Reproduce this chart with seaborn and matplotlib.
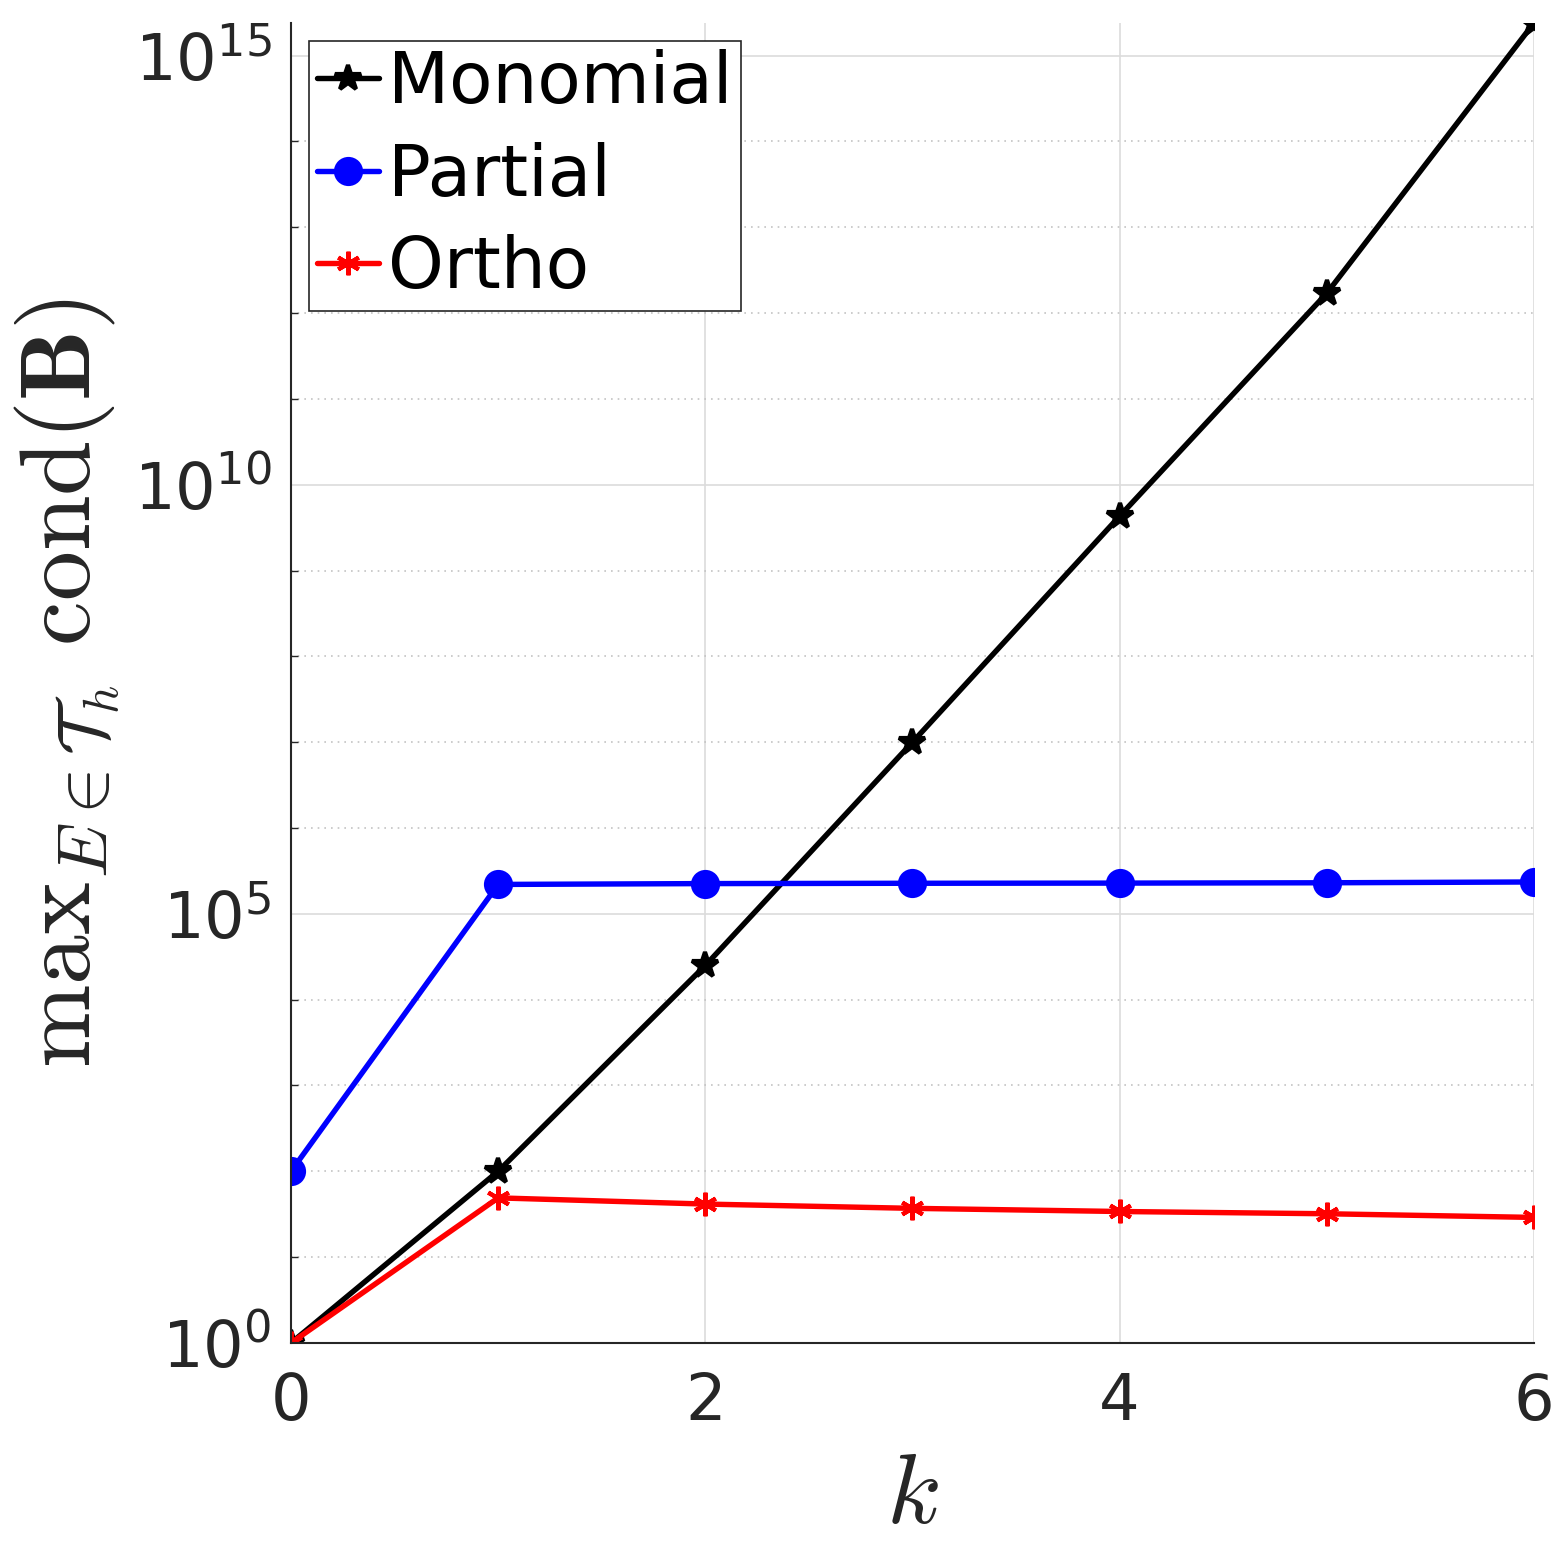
import numpy as np
import pandas as pd
import matplotlib
matplotlib.use('Agg')
import matplotlib.pyplot as plt
import matplotlib.ticker as mticker
import seaborn as sns

# valores
k = [0, 1, 2, 3, 4, 5, 6]
monomial = [1.0, 1.0e2, 2.5e4, 1.0e7, 4.3e9, 1.7e12, 2.4e15]
partial = [1.0e2, 2.2e5, 2.25e5, 2.27e5, 2.28e5, 2.3e5, 2.35e5]
ortho = [1.0, 49, 41.5, 37, 34, 32, 29]

series = {
    'Monomial': (monomial, '#000000', '*', 19),
    'Partial': (partial, '#0000FF', 'o', 18),
    'Ortho': (ortho, '#FF0000', (6, 2, 0), 17),
}

sns.set_theme(style='white')
plt.rcParams['font.family'] = ['DejaVu Sans']
plt.rcParams['mathtext.fontset'] = 'cm'

fig = plt.figure(figsize=(15.63, 15.63), dpi=100)
ax = fig.add_axes([0.1862, 0.1408, 0.9814 - 0.1862, 0.9853 - 0.1408])

for name, (vals, col, mk, ms) in series.items():
    df = pd.DataFrame({'k': k, 'val': vals})
    sns.lineplot(data=df, x='k', y='val', ax=ax, color=col, marker=mk,
                 markersize=ms, markeredgewidth=3.0, markeredgecolor=col,
                 markerfacecolor=col, linewidth=3.9, label=name)

ax.set_yscale('log')
ax.set_xlim(0, 6)
ax.set_ylim(1, 2.4e15)
ax.set_xticks([0, 2, 4, 6])
ax.yaxis.set_major_locator(mticker.FixedLocator([1e0, 1e5, 1e10, 1e15]))
ax.yaxis.set_minor_locator(mticker.FixedLocator([10.0 ** i for i in range(16)]))
ax.yaxis.set_major_formatter(mticker.LogFormatterSciNotation())
ax.yaxis.set_minor_formatter(mticker.NullFormatter())

ax.grid(True, which='major', color='#dcdcdc', linestyle='-', linewidth=1.2)
ax.grid(True, which='minor', axis='y', color='#c4c4c4', linestyle=(0, (1, 3)), linewidth=1.2)

for s in ['top', 'right']:
    ax.spines[s].set_visible(False)
for s in ['left', 'bottom']:
    ax.spines[s].set_color('#262626')
    ax.spines[s].set_linewidth(1.5)

ax.tick_params(axis='both', which='major', direction='in', length=9.5, width=1.2,
               color='#262626', labelsize=46, labelcolor='#262626')
ax.tick_params(axis='x', which='major', pad=20)
ax.tick_params(axis='y', which='major', pad=14)
ax.tick_params(axis='y', which='minor', direction='in', length=5, width=1.0,
               color='#262626', left=True)

ax.set_xlabel(r'$k$', fontsize=72, labelpad=10)
ax.set_ylabel(r'$\mathrm{max}_{E\in\mathcal{T}_h}\ \mathrm{cond}(\mathbf{B})$',
              fontsize=72, labelpad=8)

leg = ax.legend(loc='upper left', fontsize=51, frameon=True, fancybox=False,
                framealpha=1, edgecolor='#262626', borderpad=0.12,
                labelspacing=0.33, handlelength=0.87, handletextpad=0.13,
                borderaxespad=0.25, labelcolor='#000000')
leg.get_frame().set_linewidth(1.2)

fig.savefig('out.png', dpi=100)
